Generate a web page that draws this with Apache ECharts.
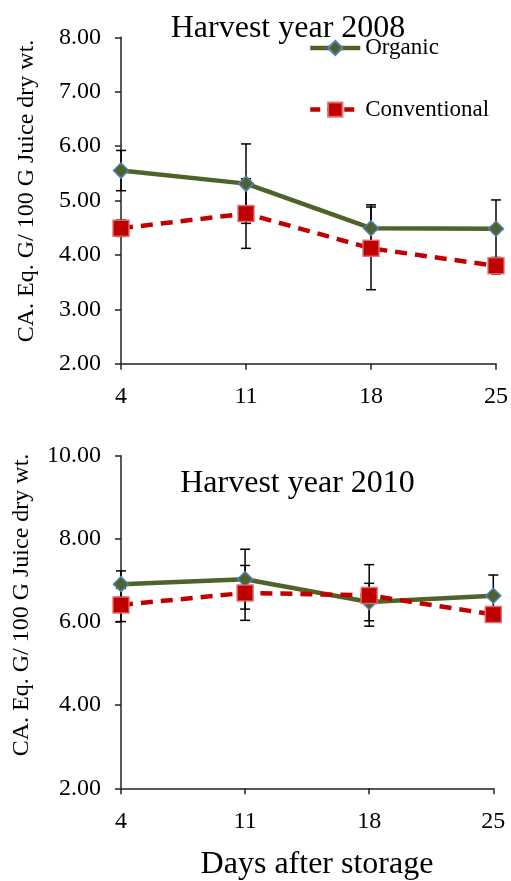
<!DOCTYPE html>
<html>
<head>
<meta charset="utf-8">
<script src="https://cdn.jsdelivr.net/npm/echarts@6/dist/echarts.min.js"></script>
<style>
  html, body { margin: 0; padding: 0; background: #fff; }
  #chart { width: 511px; height: 881px; }
</style>
</head>
<body>
<div id="chart"></div>
<script>
// Storage days on the x axis
const days = ['4', '11', '18', '25'];

// Harvest year 2008 (means and error half-widths)
const organic2008 = [5.55, 5.31, 4.49, 4.48];
const organic2008Err = [0.37, 0.73, 0.43, 0.53];
const conventional2008 = [4.49, 4.76, 4.12, 3.80];
const conventional2008Err = [0.15, 0.64, 0.76, 0.15];

// Harvest year 2010 (means and error half-widths)
const organic2010 = [6.91, 7.03, 6.48, 6.63];
const organic2010Err = [0.32, 0.72, 0.45, 0.50];
const conventional2010 = [6.41, 6.70, 6.64, 6.18];
const conventional2010Err = [0.40, 0.66, 0.74, 0.10];

// Y axis ranges
const yTop = { min: 2, max: 8, interval: 1 };
const yBottom = { min: 2, max: 10, interval: 2 };

const FONT = '"Liberation Serif", "Times New Roman", serif';
const ORG_COLOR = '#4F6228';
const CONV_COLOR = '#C00000';
const CONV_DASH = [12, 8];

const chart = echarts.init(document.getElementById('chart'), null, { renderer: 'canvas' });

function lineSeries(name, values, idx, isOrganic) {
  return {
    name: name,
    type: 'line',
    xAxisIndex: idx,
    yAxisIndex: idx,
    data: values,
    z: 3,
    symbol: isOrganic ? 'diamond' : 'rect',
    symbolSize: isOrganic ? 15 : 16,
    showAllSymbol: true,
    lineStyle: isOrganic
      ? { color: ORG_COLOR, width: 4.5, type: 'solid' }
      : { color: CONV_COLOR, width: 4.5, type: CONV_DASH },
    itemStyle: isOrganic
      ? { color: ORG_COLOR, borderColor: '#4F81BD', borderWidth: 1.5 }
      : { color: CONV_COLOR, borderColor: 'rgba(225,110,110,0.9)', borderWidth: 1.5 },
    emphasis: { disabled: true },
    animation: false
  };
}

function errorSeries(values, errs, idx) {
  return {
    type: 'custom',
    xAxisIndex: idx,
    yAxisIndex: idx,
    z: 1,
    silent: true,
    animation: false,
    data: values.map((v, i) => [i, v, errs[i]]),
    renderItem: function (params, api) {
      const x = api.value(0);
      const v = api.value(1);
      const e = api.value(2);
      const hi = api.coord([x, v + e]);
      const lo = api.coord([x, v - e]);
      const cap = 5;
      const style = { stroke: '#000', lineWidth: 1.5 };
      return {
        type: 'group',
        children: [
          { type: 'line', shape: { x1: hi[0], y1: hi[1], x2: lo[0], y2: lo[1] }, style: style },
          { type: 'line', shape: { x1: hi[0] - cap, y1: hi[1], x2: hi[0] + cap, y2: hi[1] }, style: style },
          { type: 'line', shape: { x1: lo[0] - cap, y1: lo[1], x2: lo[0] + cap, y2: lo[1] }, style: style }
        ]
      };
    }
  };
}

const axisLineStyle = { color: '#222', width: 1.5 };

function xAxis(idx) {
  return {
    type: 'category',
    gridIndex: idx,
    data: days,
    boundaryGap: false,
    axisLine: { lineStyle: axisLineStyle },
    axisTick: { show: true, length: 6, lineStyle: axisLineStyle },
    axisLabel: { fontFamily: FONT, fontSize: 24, color: '#000', margin: 21 },
    splitLine: { show: false }
  };
}

function yAxis(idx, range) {
  return {
    type: 'value',
    gridIndex: idx,
    min: range.min,
    max: range.max,
    interval: range.interval,
    axisLine: { show: true, lineStyle: axisLineStyle },
    axisTick: { show: true, length: 6, lineStyle: axisLineStyle },
    axisLabel: {
      fontFamily: FONT, fontSize: 24, color: '#000', margin: 20,
      formatter: v => v.toFixed(2)
    },
    splitLine: { show: false }
  };
}

const yName = 'CA. Eq. G/ 100 G Juice dry wt.';

const option = {
  backgroundColor: '#fff',
  animation: false,
  grid: [
    { left: 121, right: 12, top: 37.3, bottom: 517.3 },
    { left: 121, right: 17.7, top: 455.7, bottom: 92.7 }
  ],
  xAxis: [xAxis(0), xAxis(1)],
  yAxis: [yAxis(0, yTop), yAxis(1, yBottom)],
  legend: {
    data: [
      { name: 'Organic', lineStyle: { width: 4.5, color: ORG_COLOR, type: 'solid' } },
      { name: 'Conventional', lineStyle: { width: 4.5, color: CONV_COLOR, type: [10, 7] } }
    ],
    orient: 'vertical',
    left: 303,
    top: 31.5,
    itemWidth: 50,
    itemHeight: 18,
    itemGap: 38.6,
    selectedMode: false,
    textStyle: { fontFamily: FONT, fontSize: 23, color: '#000' }
  },
  graphic: [
    {
      type: 'text', x: 288, y: 28.2, z: 10,
      style: { text: 'Harvest year 2008', align: 'center', verticalAlign: 'middle',
               font: '32px ' + FONT, fill: '#000' }
    },
    {
      type: 'text', x: 297.5, y: 483.2, z: 10,
      style: { text: 'Harvest year 2010', align: 'center', verticalAlign: 'middle',
               font: '32px ' + FONT, fill: '#000' }
    },
    {
      type: 'text', x: 317, y: 865,
      style: { text: 'Days after storage', align: 'center', verticalAlign: 'middle',
               font: '32px ' + FONT, fill: '#000' }
    },
    {
      type: 'text', x: 27, y: 191, rotation: Math.PI / 2,
      style: { text: yName, align: 'center', verticalAlign: 'middle',
               font: '24px ' + FONT, fill: '#000' }
    },
    {
      type: 'text', x: 22, y: 605, rotation: Math.PI / 2,
      style: { text: yName, align: 'center', verticalAlign: 'middle',
               font: '24px ' + FONT, fill: '#000' }
    }
  ],
  series: [
    errorSeries(organic2008, organic2008Err, 0),
    errorSeries(conventional2008, conventional2008Err, 0),
    lineSeries('Organic', organic2008, 0, true),
    lineSeries('Conventional', conventional2008, 0, false),
    errorSeries(organic2010, organic2010Err, 1),
    errorSeries(conventional2010, conventional2010Err, 1),
    lineSeries('Organic', organic2010, 1, true),
    lineSeries('Conventional', conventional2010, 1, false)
  ]
};

chart.setOption(option);
</script>
</body>
</html>
